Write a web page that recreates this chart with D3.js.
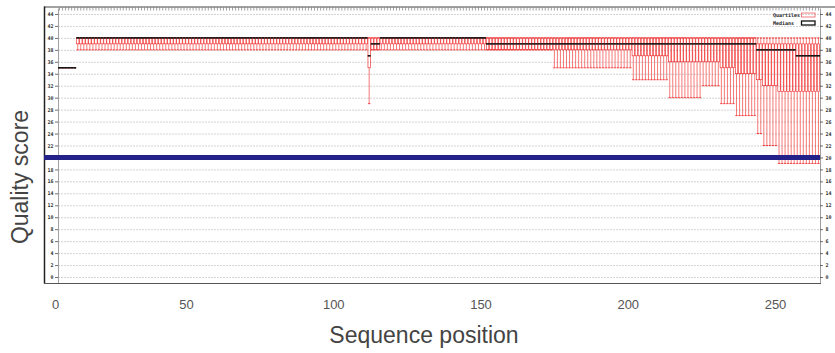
<!DOCTYPE html>
<html><head><meta charset="utf-8">
<script src="https://cdn.jsdelivr.net/npm/d3@7"></script>
<style>html,body{margin:0;padding:0;background:#fff;} svg{display:block;}</style>
</head><body>
<svg id="chart" width="835" height="353"></svg>
<script>
// ---- data (runs of read positions sharing the same quality statistics) ----
const segStart = [1, 7, 103, 104, 107, 142, 164, 190, 202, 213, 219, 224, 231, 233, 238, 244];
const segEnd   = [6, 102, 103, 106, 141, 163, 189, 201, 212, 218, 223, 230, 232, 237, 243, 251];
const q1       = [35, 39, 35, 38, 39, 38, 38, 37, 36, 36, 35, 34, 33, 32, 31, 31];
const median   = [35, 40, 37, 39, 40, 39, 39, 39, 39, 39, 39, 39, 38, 38, 38, 37];
const q3       = [35, 40, 40, 40, 40, 40, 40, 40, 40, 40, 40, 40, 39, 39, 39, 39];
const lowW     = [35, 38, 29, 38, 38, 38, 35, 33, 30, 32, 29, 27, 24, 22, 19, 19];
const highW    = [35, 40, 40, 40, 40, 40, 40, 40, 40, 40, 40, 40, 40, 40, 40, 40];
const readLength = 251;
const thresholdQ = 20;
const yTicks = d3.range(0, 45, 2);
const xTickLabels = [0, 50, 100, 150, 200, 250];
const legendLabels = ["Quartiles", "Medians"];

// expand runs into per-position records
const rows = [];
segStart.forEach((s, i) => {
  for (let p = s; p <= segEnd[i]; p++) {
    rows.push({pos: p, q1: q1[i], med: median[i], q3: q3[i], lw: lowW[i], hw: highW[i]});
  }
});
const positions = d3.range(1, readLength + 1);

// ---- layout ----
const svg = d3.select("#chart");
const plotL = 58, plotR = 820, plotT = 8, plotB = 283;
const x = d3.scaleLinear().domain([0.5, readLength + 0.5]).range([plotL, plotR]);
const y = d3.scaleLinear().domain([-1, 45]).range([plotB, plotT]);
// overlay label axis (its own, slightly uneven, spacing)
const xLab = d3.scaleLinear().domain([0, 50, 250]).range([55, 186, 775]);
const step = x(2) - x(1);
const bw = step * 0.8;
const red = "#f01e1e";
const mono = "'DejaVu Sans Mono', monospace";

// grid lines
svg.append("g").selectAll("line").data(yTicks).join("line")
  .attr("x1", plotL).attr("x2", plotR)
  .attr("y1", d => y(d) + 0.5).attr("y2", d => y(d) + 0.5)
  .attr("stroke", "#c8c8c8").attr("stroke-width", 0.8).attr("stroke-dasharray", "2,1");

// left y axis
const gL = svg.append("g").attr("transform", `translate(${plotL},0)`)
  .call(d3.axisLeft(y).tickValues(yTicks).tickSize(3).tickSizeOuter(0).tickPadding(1.5));
gL.select(".domain").attr("stroke", "#888").attr("stroke-width", 0.8);
gL.selectAll(".tick line").attr("stroke", "#333").attr("stroke-width", 0.7);
gL.selectAll(".tick text").attr("font-family", mono).attr("font-size", 5).attr("font-weight", "bold").attr("fill", "#333");

// right y axis
const gR = svg.append("g").attr("transform", `translate(${plotR},0)`)
  .call(d3.axisRight(y).tickValues(yTicks).tickSize(3).tickSizeOuter(0).tickPadding(2.5));
gR.select(".domain").attr("stroke", "#888").attr("stroke-width", 0.8);
gR.selectAll(".tick line").attr("stroke", "#333").attr("stroke-width", 0.7);
gR.selectAll(".tick text").attr("font-family", mono).attr("font-size", 5).attr("font-weight", "bold").attr("fill", "#333");

// top mirrored x tics (one per position)
svg.append("g").selectAll("line").data(positions).join("line")
  .attr("x1", d => x(d)).attr("x2", d => x(d))
  .attr("y1", 7.5).attr("y2", 10.5)
  .attr("stroke", "#8a8a8a").attr("stroke-width", 0.8);

// frame lines
svg.append("line").attr("x1", 44).attr("x2", 835).attr("y1", 7).attr("y2", 7).attr("stroke", "#444").attr("stroke-width", 1);
svg.append("line").attr("x1", 44.5).attr("x2", 44.5).attr("y1", 6.5).attr("y2", 283.5).attr("stroke", "#222").attr("stroke-width", 1.5);
svg.append("line").attr("x1", 44).attr("x2", plotR + 1).attr("y1", 283.5).attr("y2", 283.5).attr("stroke", "#555").attr("stroke-width", 1.2);

// candlesticks
const g = svg.append("g");
// whiskers
g.selectAll(".wl").data(rows).join("line").attr("class", "wl")
  .attr("x1", d => x(d.pos)).attr("x2", d => x(d.pos))
  .attr("y1", d => y(d.q1)).attr("y2", d => y(d.lw))
  .attr("stroke", red).attr("stroke-width", 0.6);
g.selectAll(".wh").data(rows).join("line").attr("class", "wh")
  .attr("x1", d => x(d.pos)).attr("x2", d => x(d.pos))
  .attr("y1", d => y(d.q3)).attr("y2", d => y(d.hw))
  .attr("stroke", red).attr("stroke-width", 0.6);
// whisker caps
g.selectAll(".cl").data(rows).join("line").attr("class", "cl")
  .attr("x1", d => x(d.pos) - bw / 2).attr("x2", d => x(d.pos) + bw / 2)
  .attr("y1", d => y(d.lw)).attr("y2", d => y(d.lw))
  .attr("stroke", red).attr("stroke-width", 0.8);
g.selectAll(".ch").data(rows).join("line").attr("class", "ch")
  .attr("x1", d => x(d.pos) - bw / 2).attr("x2", d => x(d.pos) + bw / 2)
  .attr("y1", d => y(d.hw)).attr("y2", d => y(d.hw))
  .attr("stroke", red).attr("stroke-width", 0.8);
// boxes
g.selectAll(".bx").data(rows).join("rect").attr("class", "bx")
  .attr("x", d => x(d.pos) - bw / 2).attr("width", bw)
  .attr("y", d => y(d.q3)).attr("height", d => y(d.q1) - y(d.q3))
  .attr("fill", "none").attr("stroke", red).attr("stroke-width", 0.6);
// medians
g.selectAll(".md").data(rows).join("line").attr("class", "md")
  .attr("x1", d => x(d.pos) - step / 2).attr("x2", d => x(d.pos) + step / 2)
  .attr("y1", d => y(d.med)).attr("y2", d => y(d.med))
  .attr("stroke", "#111").attr("stroke-width", 1.6);

// threshold line
svg.append("line").attr("x1", 44).attr("x2", plotR)
  .attr("y1", y(thresholdQ)).attr("y2", y(thresholdQ))
  .attr("stroke", "#222288").attr("stroke-width", 5);

// legend
const lg = svg.append("g");
legendLabels.forEach((t, i) => {
  const yy = 15 + i * 8;
  lg.append("text").attr("x", 773).attr("y", yy + 1.8).text(t)
    .attr("font-family", mono).attr("font-size", 5).attr("font-weight", "bold").attr("fill", "#222");
  lg.append("rect").attr("x", 801.5).attr("y", yy - 2).attr("width", 13.5).attr("height", 4)
    .attr("fill", "none").attr("stroke", i === 0 ? "#f06060" : "#111").attr("stroke-width", i === 0 ? 0.8 : 1.3);
});

// x tick labels (overlay)
const gX = svg.append("g").attr("transform", "translate(0,298)")
  .call(d3.axisBottom(xLab).tickValues(xTickLabels).tickSize(0).tickPadding(0));
gX.select(".domain").remove();
gX.selectAll(".tick text").attr("font-family", "'Liberation Sans', Arial, sans-serif")
  .attr("font-size", 13).attr("fill", "#555").attr("dy", "0.85em");

// axis titles
svg.append("text").attr("transform", "translate(28,177) rotate(-90)")
  .attr("text-anchor", "middle").attr("font-family", "'Liberation Sans', Arial, sans-serif")
  .attr("font-size", 23).attr("fill", "#444").text("Quality score");
svg.append("text").attr("x", 424).attr("y", 343)
  .attr("text-anchor", "middle").attr("font-family", "'Liberation Sans', Arial, sans-serif")
  .attr("font-size", 23).attr("fill", "#444").text("Sequence position");
</script>
</body></html>
